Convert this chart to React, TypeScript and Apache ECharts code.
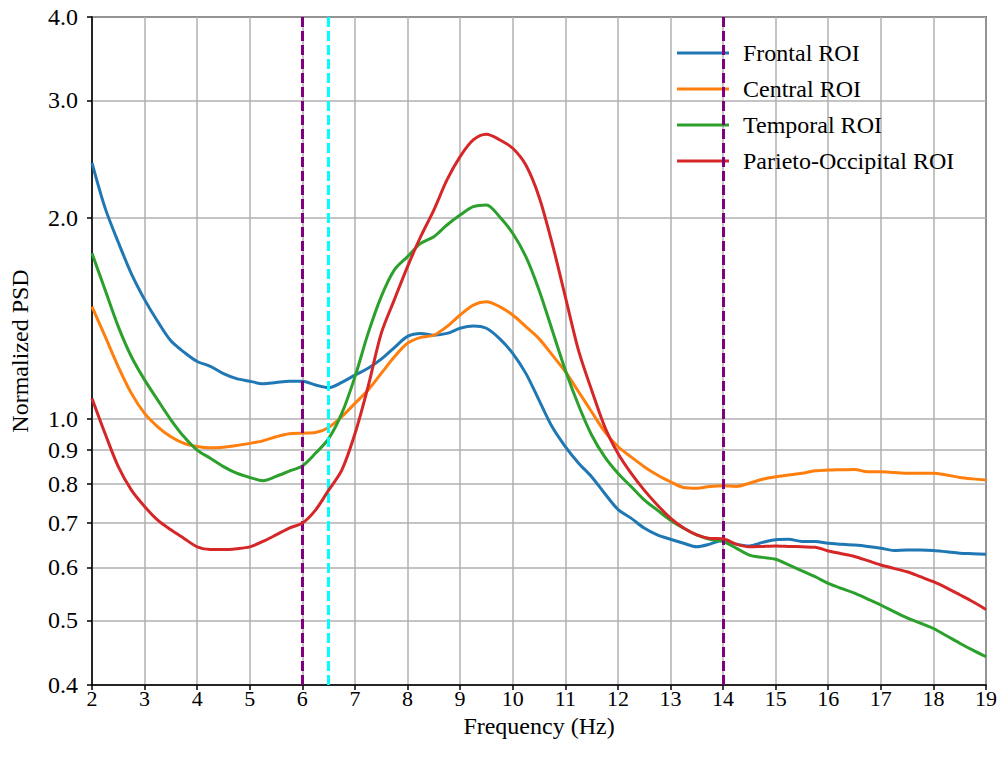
import React, { useEffect, useRef } from "react";
import * as echarts from "echarts";

const freqs = [
  2, 2.25, 2.5, 2.75, 3, 3.25, 3.5, 3.75, 4, 4.25, 4.5, 4.75, 5, 5.25, 5.5, 5.75,
  6, 6.25, 6.5, 6.75, 7, 7.25, 7.5, 7.75, 8, 8.25, 8.5, 8.75, 9, 9.25, 9.5, 9.75,
  10, 10.25, 10.5, 10.75, 11, 11.25, 11.5, 11.75, 12, 12.25, 12.5, 12.75, 13, 13.25, 13.5, 13.75,
  14, 14.25, 14.5, 14.75, 15, 15.25, 15.5, 15.75, 16, 16.25, 16.5, 16.75, 17, 17.25, 17.5, 17.75,
  18, 18.25, 18.5, 18.75, 19,
];

const frontal = [
  2.42, 2.07, 1.84, 1.65, 1.51, 1.40, 1.31, 1.26, 1.22, 1.20, 1.17, 1.15, 1.14, 1.13, 1.135, 1.14,
  1.14, 1.125, 1.115, 1.135, 1.164, 1.192, 1.23, 1.28, 1.33, 1.344, 1.336, 1.344, 1.368, 1.379, 1.368, 1.32,
  1.255, 1.171, 1.068, 0.974, 0.91, 0.86, 0.82, 0.774, 0.733, 0.711, 0.687, 0.671, 0.661, 0.652, 0.644, 0.65,
  0.659, 0.65, 0.646, 0.654, 0.66, 0.661, 0.656, 0.656, 0.652, 0.65, 0.648, 0.645, 0.641, 0.636, 0.637, 0.637,
  0.636, 0.633, 0.63, 0.629, 0.628,
];

const central = [
  1.474, 1.33, 1.198, 1.093, 1.02, 0.974, 0.941, 0.92, 0.91, 0.906, 0.908, 0.913, 0.92, 0.928, 0.941, 0.951,
  0.953, 0.955, 0.972, 1.009, 1.056, 1.106, 1.171, 1.24, 1.299, 1.326, 1.336, 1.376, 1.432, 1.482, 1.499, 1.474,
  1.432, 1.376, 1.32, 1.248, 1.178, 1.1, 1.026, 0.958, 0.91, 0.878, 0.849, 0.825, 0.806, 0.79, 0.788, 0.793,
  0.795, 0.793, 0.802, 0.813, 0.82, 0.825, 0.83, 0.837, 0.839, 0.84, 0.841, 0.834, 0.834, 0.832, 0.83, 0.83,
  0.83, 0.825, 0.818, 0.814, 0.811,
];

const temporal = [
  1.771, 1.561, 1.376, 1.24, 1.145, 1.068, 0.998, 0.941, 0.899, 0.874, 0.849, 0.83, 0.818, 0.809, 0.821, 0.836,
  0.851, 0.889, 0.935, 1.02, 1.157, 1.344, 1.526, 1.673, 1.751, 1.833, 1.876, 1.953, 2.021, 2.08, 2.093, 2.009,
  1.898, 1.751, 1.561, 1.36, 1.185, 1.05, 0.947, 0.878, 0.83, 0.793, 0.757, 0.731, 0.706, 0.687, 0.671, 0.661,
  0.656, 0.641, 0.626, 0.621, 0.617, 0.605, 0.593, 0.581, 0.568, 0.558, 0.549, 0.538, 0.527, 0.515, 0.504, 0.495,
  0.486, 0.474, 0.462, 0.451, 0.441,
];

const parieto = [
  1.074, 0.951, 0.849, 0.783, 0.74, 0.706, 0.683, 0.663, 0.644, 0.638, 0.638, 0.64, 0.644, 0.656, 0.671, 0.687,
  0.699, 0.731, 0.783, 0.839, 0.951, 1.119, 1.344, 1.51, 1.692, 1.876, 2.056, 2.281, 2.472, 2.618, 2.67, 2.62,
  2.544, 2.401, 2.153, 1.833, 1.526, 1.269, 1.106, 0.974, 0.889, 0.83, 0.783, 0.744, 0.711, 0.687, 0.671, 0.663,
  0.662, 0.65, 0.644, 0.645, 0.646, 0.645, 0.644, 0.643, 0.635, 0.629, 0.623, 0.614, 0.605, 0.598, 0.591, 0.581,
  0.571, 0.559, 0.546, 0.533, 0.519,
];

const seriesNames = ["Frontal ROI", "Central ROI", "Temporal ROI", "Parieto-Occipital ROI"];
const seriesValues = [frontal, central, temporal, parieto];
const colors = ["#1f77b4", "#ff7f0e", "#2ca02c", "#d62728"];
const yTickValues = [0.4, 0.5, 0.6, 0.7, 0.8, 0.9, 1.0, 2.0, 3.0, 4.0];
const purpleLines = [6, 14];
const cyanLines = [6.5];

const FONT = "Liberation Serif";
const FS = 24;

export default function App() {
  const ref = useRef<HTMLDivElement>(null);
  useEffect(() => {
    if (!ref.current) return;
    const chart = echarts.init(ref.current, null, { renderer: "svg" });
    const logTicks = yTickValues.map((v) => Math.log10(v));
    const series: any[] = seriesValues.map((vals, k) => ({
      name: seriesNames[k],
      type: "line",
      data: freqs.map((f, i) => [f, Math.log10(vals[i])]),
      showSymbol: false,
      smooth: 0.3,
      lineStyle: { color: colors[k], width: 3 },
      itemStyle: { color: colors[k] },
      z: 2 + k,
    }));
    series.push({
      name: "markers",
      type: "line",
      data: [],
      z: 10,
      silent: true,
      markLine: {
        silent: true,
        symbol: "none",
        animation: false,
        label: { show: false },
        lineStyle: { width: 3, type: [10, 4] },
        emphasis: { disabled: true },
        data: [
          ...purpleLines.map((x) => ({
            xAxis: x,
            lineStyle: { color: "#800080", width: 3, type: [10, 4] },
          })),
          ...cyanLines.map((x) => ({
            xAxis: x,
            lineStyle: { color: "#00ffff", width: 3, type: [10, 4] },
          })),
        ],
      },
    });
    chart.setOption({
      animation: false,
      backgroundColor: "#ffffff",
      textStyle: { fontFamily: FONT },
      grid: {
        left: 92,
        right: 14,
        top: 17,
        bottom: 72,
        show: true,
        borderColor: "#000000",
        borderWidth: 1.5,
        backgroundColor: "transparent",
      },
      legend: {
        data: seriesNames,
        orient: "vertical",
        left: 672,
        top: 35,
        itemWidth: 52,
        itemHeight: 3,
        itemGap: 10,
        icon: "rect",
        textStyle: {
          fontFamily: FONT,
          fontSize: FS,
          color: "#000",
          lineHeight: 26,
          padding: [0, 0, 0, 9],
        },
      },
      xAxis: {
        type: "value",
        min: 2,
        max: 19,
        interval: 1,
        name: "Frequency (Hz)",
        nameLocation: "middle",
        nameGap: 31,
        nameMoveOverlap: false,
        nameTextStyle: {
          fontFamily: FONT,
          fontSize: FS,
          color: "#000",
          verticalAlign: "top",
          lineHeight: 20,
        },
        axisLine: { show: true, onZero: false, lineStyle: { color: "#000", width: 1.5 } },
        axisTick: { show: true, inside: false, length: 5, lineStyle: { color: "#000", width: 1.5 } },
        axisLabel: { fontFamily: FONT, fontSize: 22, color: "#000", margin: 4, lineHeight: 18 },
        splitLine: { show: true, lineStyle: { color: "#b0b0b0", width: 1.5 } },
      },
      yAxis: {
        type: "value",
        min: Math.log10(0.4),
        max: Math.log10(4),
        name: "Normalized PSD",
        nameLocation: "middle",
        nameGap: 60,
        nameMoveOverlap: false,
        nameTextStyle: { fontFamily: FONT, fontSize: FS, color: "#000" },
        axisLine: { show: true, onZero: false, lineStyle: { color: "#000", width: 1.5 } },
        axisTick: {
          show: true,
          inside: false,
          length: 5,
          customValues: logTicks,
          lineStyle: { color: "#000", width: 1.5 },
        },
        axisLabel: {
          fontFamily: FONT,
          fontSize: FS,
          color: "#000",
          margin: 14,
          lineHeight: 18,
          customValues: logTicks,
          formatter: (v: number) => Math.pow(10, v).toFixed(1),
        },
        splitLine: { show: true, lineStyle: { color: "#b0b0b0", width: 1.5 } },
      },
      series,
    });
    return () => chart.dispose();
  }, []);
  return (
    <div
      ref={ref}
      style={{ position: "fixed", left: 0, top: 0, width: 1000, height: 757, background: "#fff" }}
    />
  );
}
